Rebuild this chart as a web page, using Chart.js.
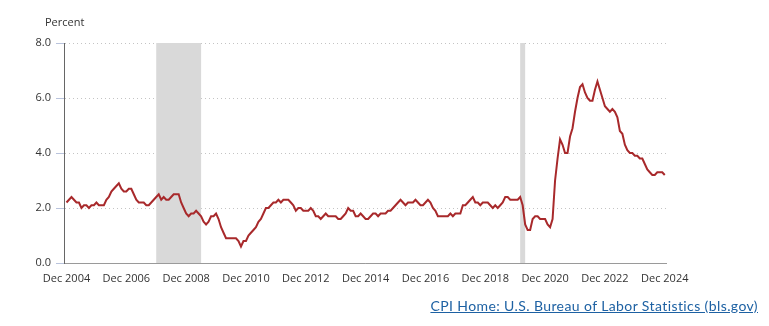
<!DOCTYPE html>
<html><head><meta charset="utf-8">
<script src="https://cdn.jsdelivr.net/npm/chart.js@4"></script>
<style>
html,body{margin:0;padding:0;background:#fff;}
#wrap{position:relative;width:769px;height:326px;}
#c{position:absolute;left:0;top:0;}
#link{position:absolute;right:11px;top:297px;font-family:Lato,"Open Sans",sans-serif;font-size:14px;letter-spacing:0.4px;color:#1d61a3;text-decoration:underline;white-space:nowrap;}
</style></head>
<body>
<div id="wrap"><canvas id="c" width="769" height="326"></canvas>
<div id="link">CPI Home: U.S. Bureau of Labor Statistics (bls.gov)</div></div>
<script>
// Months Dec 2004 .. Dec 2024
const months = [];
const mn = ['Jan','Feb','Mar','Apr','May','Jun','Jul','Aug','Sep','Oct','Nov','Dec'];
months.push('Dec 2004');
for (let y = 2005; y <= 2024; y++) for (let m = 0; m < 12; m++) months.push(mn[m] + ' ' + y);

const y2004 = [2.2];
const y2005 = [2.3,2.4,2.3,2.2,2.2,2.0,2.1,2.1,2.0,2.1,2.1,2.2];
const y2006 = [2.1,2.1,2.1,2.3,2.4,2.6,2.7,2.8,2.9,2.7,2.6,2.6];
const y2007 = [2.7,2.7,2.5,2.3,2.2,2.2,2.2,2.1,2.1,2.2,2.3,2.4];
const y2008 = [2.5,2.3,2.4,2.3,2.3,2.4,2.5,2.5,2.5,2.2,2.0,1.8];
const y2009 = [1.7,1.8,1.8,1.9,1.8,1.7,1.5,1.4,1.5,1.7,1.7,1.8];
const y2010 = [1.6,1.3,1.1,0.9,0.9,0.9,0.9,0.9,0.8,0.6,0.8,0.8];
const y2011 = [1.0,1.1,1.2,1.3,1.5,1.6,1.8,2.0,2.0,2.1,2.2,2.2];
const y2012 = [2.3,2.2,2.3,2.3,2.3,2.2,2.1,1.9,2.0,2.0,1.9,1.9];
const y2013 = [1.9,2.0,1.9,1.7,1.7,1.6,1.7,1.8,1.7,1.7,1.7,1.7];
const y2014 = [1.6,1.6,1.7,1.8,2.0,1.9,1.9,1.7,1.7,1.8,1.7,1.6];
const y2015 = [1.6,1.7,1.8,1.8,1.7,1.8,1.8,1.8,1.9,1.9,2.0,2.1];
const y2016 = [2.2,2.3,2.2,2.1,2.2,2.2,2.2,2.3,2.2,2.1,2.1,2.2];
const y2017 = [2.3,2.2,2.0,1.9,1.7,1.7,1.7,1.7,1.7,1.8,1.7,1.8];
const y2018 = [1.8,1.8,2.1,2.1,2.2,2.3,2.4,2.2,2.2,2.1,2.2,2.2];
const y2019 = [2.2,2.1,2.0,2.1,2.0,2.1,2.2,2.4,2.4,2.3,2.3,2.3];
const y2020 = [2.3,2.4,2.1,1.4,1.2,1.2,1.6,1.7,1.7,1.6,1.6,1.6];
const y2021 = [1.4,1.3,1.6,3.0,3.8,4.5,4.3,4.0,4.0,4.6,4.9,5.5];
const y2022 = [6.0,6.4,6.5,6.2,6.0,5.9,5.9,6.3,6.6,6.3,6.0,5.7];
const y2023 = [5.6,5.5,5.6,5.5,5.3,4.8,4.7,4.3,4.1,4.0,4.0,3.9];
const y2024 = [3.9,3.8,3.8,3.6,3.4,3.3,3.2,3.2,3.3,3.3,3.3,3.2];
const values = [].concat(y2004,y2005,y2006,y2007,y2008,y2009,y2010,y2011,y2012,y2013,y2014,y2015,y2016,y2017,y2018,y2019,y2020,y2021,y2022,y2023,y2024);

const xTickLabels = ['Dec 2004','Dec 2006','Dec 2008','Dec 2010','Dec 2012','Dec 2014','Dec 2016','Dec 2018','Dec 2020','Dec 2022','Dec 2024'];
const yTicks = [0, 2, 4, 6, 8];
const recessions = [['Dec 2007','Jun 2009'],['Feb 2020','Apr 2020']];

const FONT = '"Open Sans", sans-serif';

const shade = {
  id: 'shade',
  beforeDatasetsDraw(chart) {
    const {ctx, chartArea, scales:{x}} = chart;
    ctx.save();
    ctx.fillStyle = '#d9d9d9';
    recessions.forEach(([a,b]) => {
      const x1 = x.getPixelForValue(months.indexOf(a));
      const x2 = x.getPixelForValue(months.indexOf(b));
      ctx.fillRect(x1, chartArea.top, x2 - x1, chartArea.bottom - chartArea.top);
    });
    ctx.restore();
  },
  afterDraw(chart) {
    const ctx = chart.ctx;
    ctx.save();
    ctx.fillStyle = '#333';
    ctx.font = '11px ' + FONT;
    ctx.textBaseline = 'middle';
    ctx.fillText('Percent', 45, 23);
    ctx.restore();
  }
};

new Chart(document.getElementById('c'), {
  type: 'line',
  data: {
    datasets: [{
      data: values.map((v, i) => ({x: i, y: v})),
      borderColor: '#a8292b',
      borderWidth: 2,
      pointRadius: 0,
      tension: 0,
      fill: false
    }]
  },
  options: {
    responsive: false,
    animation: false,
    events: [],
    layout: {padding: {top: 43, right: 103, left: 0, bottom: 0}},
    plugins: {legend: {display: false}, tooltip: {enabled: false}},
    scales: {
      x: {
        type: 'linear',
        min: -1, max: 240.5,
        afterBuildTicks: s => { s.ticks = xTickLabels.map(l => ({value: months.indexOf(l)})); },
        afterFit: s => { s.height = 63; },
        grid: {display: false, drawTicks: false},
        border: {display: true, color: '#9a9a9a', width: 1},
        ticks: {
          maxRotation: 0, minRotation: 0, autoSkip: false, padding: 9,
          color: '#333', font: {family: FONT, size: 11},
          callback: v => months[v]
        }
      },
      y: {
        min: 0, max: 8,
        afterBuildTicks: s => { s.ticks = yTicks.map(v => ({value: v})); },
        afterFit: s => { s.width = 64; },
        grid: {color: '#c4c4c4', tickColor: '#b9c3dc', tickLength: 8, drawTicks: true, lineWidth: 1},
        border: {display: true, color: '#666', width: 1, dash: [1, 3]},
        ticks: {
          padding: 5, color: '#333', font: {family: FONT, size: 11},
          callback: v => v.toFixed(1)
        }
      }
    }
  },
  plugins: [shade]
});
</script>
</body></html>
